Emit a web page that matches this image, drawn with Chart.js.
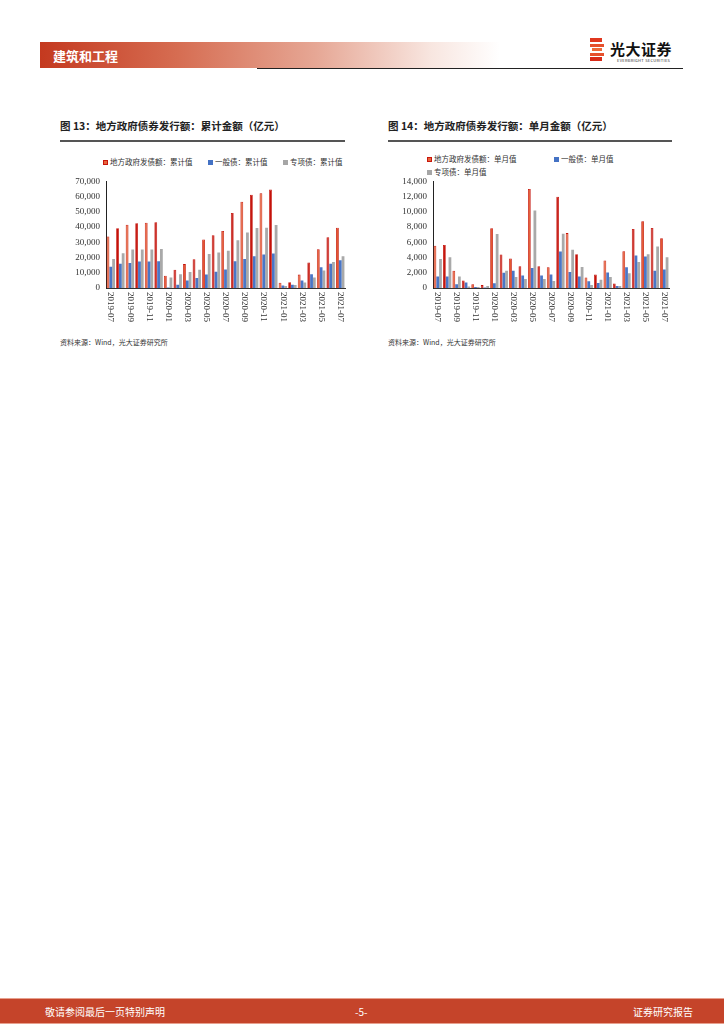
<!DOCTYPE html>
<html><head><meta charset="utf-8">
<script src="https://cdn.jsdelivr.net/npm/chart.js@4/dist/chart.umd.min.js"></script>
<style>
html,body{margin:0;padding:0;background:#fff;}
body{width:724px;height:1024px;position:relative;overflow:hidden;font-family:"Noto Sans CJK SC","Noto Sans",sans-serif;color:#222;}
.abs{position:absolute;white-space:nowrap;}
.band{left:40px;top:42px;width:460px;height:26px;background:linear-gradient(90deg,#c4391f 0%,#d66d52 30%,#e6a795 60%,#f8e6e0 85%,#fff 100%);}
.hdtxt{left:53px;top:46px;font-size:13px;font-weight:bold;color:#fff;}
.hline{left:257px;top:68px;width:426px;height:1px;background:#222;}
.title{font-size:10.5px;font-weight:bold;color:#222;}
.tline{height:1.5px;background:#555;}
.leg{font-size:7.5px;color:#333;}
.mk{display:inline-block;width:5px;height:5px;margin-right:2px;vertical-align:0px;box-sizing:border-box;}
.src{font-size:7px;color:#333;}
.foot{left:0;top:998px;width:724px;height:24px;background:#c5442a;border-top:1px solid #e7a08e;border-bottom:1px solid #e7a08e;}
.ft{font-size:10px;color:#fff;top:1004px;}
</style></head><body>
<div class="abs band"></div>
<div class="abs hdtxt">建筑和工程</div>
<div class="abs hline"></div>
<div class="abs" style="left:590px;top:38px;width:14px;height:26px;">
  <div style="height:4px;background:#e0371f;margin-bottom:1.5px;width:12px"></div>
  <div style="height:3px;background:#e6502c;margin-bottom:1.5px;width:14px"></div>
  <div style="height:3px;background:#ec6a3a;margin-bottom:1.5px;width:10px;margin-left:2px"></div>
  <div style="height:3px;background:#e6502c;margin-bottom:1.5px;width:14px"></div>
  <div style="height:4px;background:#d82a18;width:12px"></div>
</div>
<div class="abs" style="left:610px;top:38px;font-size:15px;font-weight:bold;color:#111;letter-spacing:0.5px;">光大证券</div>
<div class="abs" style="left:617px;top:57px;font-size:4px;color:#333;letter-spacing:0.3px;">EVERBRIGHT SECURITIES</div>

<div class="abs title" style="left:60px;top:118px;">图 13：地方政府债券发行额：累计金额（亿元）</div>
<div class="abs tline" style="left:60px;top:140px;width:285px;"></div>
<div class="abs leg" style="left:103px;top:156px;"><span class="mk" style="background:#e8663c;border:1px solid #c8160c"></span>地方政府发债额：累计值</div>
<div class="abs leg" style="left:208px;top:156px;"><span class="mk" style="background:#4472c4"></span>一般债：累计值</div>
<div class="abs leg" style="left:283px;top:156px;"><span class="mk" style="background:#a6a6a6"></span>专项债：累计值</div>
<div class="abs" style="left:60px;top:170px;width:290px;height:155px;"><canvas id="c1" width="290" height="155"></canvas></div>
<div class="abs src" style="left:60px;top:337px;">资料来源：Wind，光大证券研究所</div>

<div class="abs title" style="left:388px;top:118px;">图 14：地方政府债券发行额：单月金额（亿元）</div>
<div class="abs tline" style="left:388px;top:140px;width:284px;"></div>
<div class="abs leg" style="left:427px;top:153px;"><span class="mk" style="background:#e8663c;border:1px solid #c8160c"></span>地方政府发债额：单月值</div>
<div class="abs leg" style="left:554px;top:153px;"><span class="mk" style="background:#4472c4"></span>一般债：单月值</div>
<div class="abs leg" style="left:427px;top:166px;"><span class="mk" style="background:#a6a6a6"></span>专项债：单月值</div>
<div class="abs" style="left:388px;top:170px;width:285px;height:155px;"><canvas id="c2" width="285" height="155"></canvas></div>
<div class="abs src" style="left:388px;top:337px;">资料来源：Wind，光大证券研究所</div>

<div class="abs foot"></div>
<div class="abs ft" style="left:45px;">敬请参阅最后一页特别声明</div>
<div class="abs ft" style="left:355px;">-5-</div>
<div class="abs ft" style="left:633px;">证券研究报告</div>

<script>
const months = ['2019-07','2019-08','2019-09','2019-10','2019-11','2019-12','2020-01','2020-02','2020-03','2020-04','2020-05','2020-06','2020-07','2020-08','2020-09','2020-10','2020-11','2020-12','2021-01','2021-02','2021-03','2021-04','2021-05','2021-06','2021-07'];
const xTickLabels = ['2019-07','2019-09','2019-11','2020-01','2020-03','2020-05','2020-07','2020-09','2020-11','2021-01','2021-03','2021-05','2021-07'];

const cumTotal   = [33800,39200,41500,42600,42800,43200,8000,12000,15700,18900,31900,34600,37500,49300,56600,61200,62300,64600,3400,3800,8800,16800,25400,33300,39600];
const cumGeneral = [14000,15900,16400,17400,17400,17600,400,2100,5000,6500,8800,10700,12200,17600,19100,20800,22000,22600,1700,2100,5000,9000,13600,15900,18200];
const cumSpecial = [19100,22800,25200,25200,25200,25600,6900,9000,10500,12000,22400,23300,24500,31400,36500,39400,39600,41300,1300,1900,3600,6900,11500,17000,20800];

const monTotal   = [5540,5660,2260,1000,500,380,7840,4400,3860,2850,13000,2850,2730,11990,7210,4440,1380,1760,3610,590,4820,7760,8760,7880,6540];
const monGeneral = [1510,1510,500,710,130,80,630,2010,2260,1640,2640,1640,1760,4780,2100,1510,880,670,2050,250,2730,4280,4150,2260,2430];
const monSpecial = [3820,4030,1510,200,130,250,7090,2260,1430,1170,10190,1170,920,7130,5030,2770,380,1090,1430,250,1930,3400,4440,5450,4030];

const yTicks1 = {min:0,max:70000,step:10000};
const yTicks2 = {min:0,max:14000,step:2000};

const redFill = months.map((m,i)=> i%2===0 ? '#e4582f' : '#c4120a');
const redBorder = months.map(()=> '#c4120a');

const rotLabels = {
  id:'rotLabels',
  afterDraw(chart){
    const sx = chart.scales.x, ctx = chart.ctx;
    ctx.save();
    ctx.font = '9px "Liberation Serif", serif';
    ctx.fillStyle = '#333';
    ctx.textAlign = 'left';
    ctx.textBaseline = 'middle';
    xTickLabels.forEach(l=>{
      const idx = months.indexOf(l);
      const px = sx.getPixelForValue(idx);
      ctx.save();
      ctx.translate(px, sx.top + 4);
      ctx.rotate(Math.PI/2);
      ctx.fillText(l, 0, 0);
      ctx.restore();
    });
    ctx.restore();
  }
};

function makeChart(id, total, general, special, yt, leftW, padRight){
  new Chart(document.getElementById(id), {
    type:'bar',
    data:{
      labels: months,
      datasets:[
        {data: total, backgroundColor: redFill, borderColor: redBorder, borderWidth: 0.8, barPercentage:1.0, categoryPercentage:0.88},
        {data: general, backgroundColor:'#4a76c6', barPercentage:1.0, categoryPercentage:0.88},
        {data: special, backgroundColor:'#a9a9a9', barPercentage:1.0, categoryPercentage:0.88}
      ]
    },
    options:{
      responsive:false, animation:false,
      layout:{padding:{top:7, right:padRight, left:0, bottom:0}},
      plugins:{legend:{display:false}, tooltip:{enabled:false}},
      scales:{
        x:{
          grid:{display:false},
          border:{display:true,color:'#333',width:1},
          ticks:{display:false},
          afterFit(s){ s.height = 37; }
        },
        y:{
          min:yt.min, max:yt.max,
          grid:{display:false, drawTicks:false},
          border:{display:true,color:'#222',width:1},
          ticks:{stepSize:yt.step, padding:6, color:'#333', font:{family:'"Liberation Serif", serif', size:9},
            callback:v=>v.toLocaleString('en-US')},
          afterFit(s){ s.width = leftW; }
        }
      }
    },
    plugins:[rotLabels]
  });
}
makeChart('c1', cumTotal, cumGeneral, cumSpecial, yTicks1, 46, 5);
makeChart('c2', monTotal, monGeneral, monSpecial, yTicks2, 45, 4);
</script>
</body></html>
